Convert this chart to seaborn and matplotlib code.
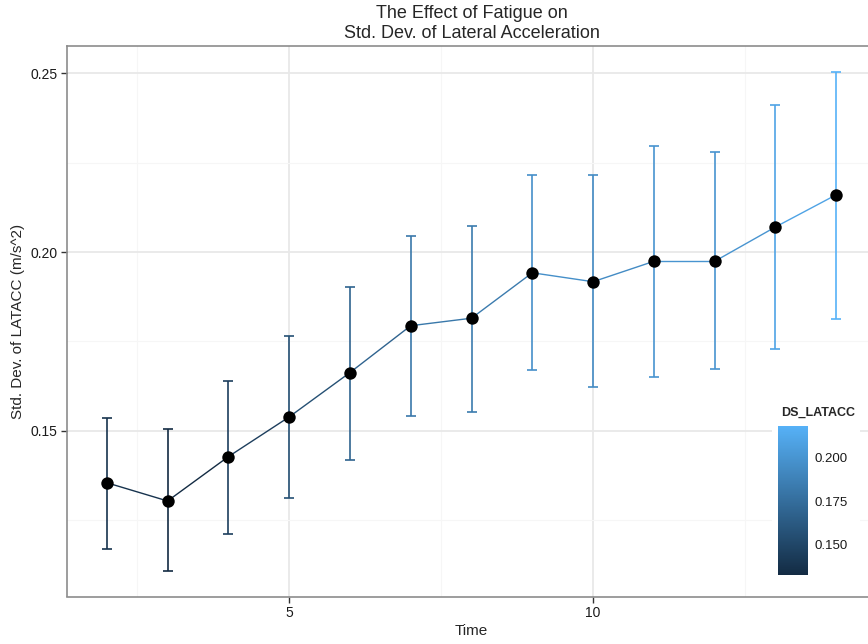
import numpy as np
import pandas as pd
import matplotlib
matplotlib.use("Agg")
import matplotlib.pyplot as plt
from matplotlib.colors import LinearSegmentedColormap, Normalize
from matplotlib.cm import ScalarMappable
from matplotlib.ticker import FixedLocator
import seaborn as sns

# Measurement occasions and summary statistics of lateral acceleration variability
time = [2, 3, 4, 5, 6, 7, 8, 9, 10, 11, 12, 13, 14]
ds_latacc = [0.1355, 0.1304, 0.1428, 0.1539, 0.1663, 0.1794, 0.1815,
             0.1942, 0.1917, 0.1974, 0.1974, 0.2070, 0.2160]
ci_lower = [0.1169, 0.1107, 0.1213, 0.1311, 0.1420, 0.1543, 0.1554,
            0.1671, 0.1623, 0.1652, 0.1674, 0.1728, 0.1812]
ci_upper = [0.1535, 0.1504, 0.1640, 0.1764, 0.1902, 0.2044, 0.2073,
            0.2215, 0.2215, 0.2297, 0.2280, 0.2411, 0.2504]

x_ticks = [5, 10]
y_ticks = [0.15, 0.20, 0.25]
legend_ticks = [0.150, 0.175, 0.200]

sns.set_style("white")
plt.rcParams["font.family"] = ["Liberation Sans", "DejaVu Sans"]

W, H = 868, 644
fig = plt.figure(figsize=(W / 100, H / 100), dpi=100)

def fx(px):
    return px / W

def fy(py):
    return 1 - py / H

# panel (extends past the right edge of the canvas)
left, right, top, bottom = 67, 876, 46, 596.5
ax = fig.add_axes([fx(left), fy(bottom), fx(right - left), (bottom - top) / H])

cmap = LinearSegmentedColormap.from_list("ggblue", ["#132B43", "#56B1F7"])
norm = Normalize(vmin=min(ds_latacc), vmax=max(ds_latacc))

# grid
ax.set_xlim(1.345, 14.655)
ax.set_ylim(0.1037, 0.2576)
ax.xaxis.set_major_locator(FixedLocator(x_ticks))
ax.yaxis.set_major_locator(FixedLocator(y_ticks))
ax.xaxis.set_minor_locator(FixedLocator([2.5, 7.5, 12.5]))
ax.yaxis.set_minor_locator(FixedLocator([0.125, 0.175, 0.225]))
ax.grid(True, which="major", color="#E8E8E8", lw=1.3, zorder=0)
ax.grid(True, which="minor", color="#F6F6F6", lw=0.8, zorder=0)
ax.set_axisbelow(True)

# line segments coloured by the value at their start
rows = []
for i in range(len(time) - 1):
    rows.append({"segment": i, "Time": time[i], "value": ds_latacc[i], "colour": ds_latacc[i]})
    rows.append({"segment": i, "Time": time[i + 1], "value": ds_latacc[i + 1], "colour": ds_latacc[i]})
seg_df = pd.DataFrame(rows)
sns.lineplot(data=seg_df, x="Time", y="value", hue="colour", units="segment",
             estimator=None, palette=cmap, hue_norm=norm, legend=False,
             lw=1.0, ax=ax, zorder=3)

# error bars
for t, m, lo, hi in zip(time, ds_latacc, ci_lower, ci_upper):
    ax.errorbar([t], [m], yerr=[[m - lo], [hi - m]], fmt="none",
                ecolor=cmap(norm(m)), elinewidth=1.2, capsize=3.4,
                capthick=1.2, zorder=4)

# points
sns.scatterplot(x=time, y=ds_latacc, color="black", s=80, linewidth=0,
                ax=ax, zorder=5)

for side in ["left", "top", "bottom"]:
    ax.spines[side].set_color("#8C8C8C")
    ax.spines[side].set_linewidth(1.2)
ax.spines["right"].set_visible(False)

ax.tick_params(which="major", direction="out", length=4, width=1,
               color="#333333", labelsize=10, labelcolor="#1A1A1A", pad=3,
               left=True, bottom=True)
ax.tick_params(which="minor", length=0)
ax.set_xticklabels([str(v) for v in x_ticks])
ax.set_yticklabels([f"{v:.2f}" for v in y_ticks])
ax.set_xlabel("")
ax.set_ylabel("")

# titles
fig.text(fx(471.5), fy(13), "The Effect of Fatigue on", ha="center", va="center", fontsize=13)
fig.text(fx(471.5), fy(34), "Std. Dev. of Lateral Acceleration", ha="center", va="center", fontsize=13)
fig.text(fx(471.5), fy(631), "Time", ha="center", va="center", fontsize=11)
fig.text(fx(18), fy(321), "Std. Dev. of LATACC (m/s^2)", ha="center", va="center",
         rotation=90, fontsize=11)

# colour legend
bg = fig.add_axes([fx(772), fy(586), fx(860 - 772), (586 - 402) / H], zorder=2)
bg.set_facecolor("white")
bg.set_xticks([])
bg.set_yticks([])
for s in bg.spines.values():
    s.set_visible(False)

# the bar reaches half a bin past the colour limits at each end
bar_norm = Normalize(vmin=0.1329, vmax=0.2178)
cax = fig.add_axes([fx(778), fy(575), fx(30), (575 - 426) / H], zorder=3)
sm = ScalarMappable(norm=bar_norm, cmap=cmap)
cb = fig.colorbar(sm, cax=cax, ticks=legend_ticks)
cb.outline.set_visible(False)
cax.yaxis.set_ticks_position("both")
cax.tick_params(direction="in", length=5.5, width=1, color="white",
                labelsize=9.5, labelcolor="#1A1A1A", pad=5, right=True, left=True,
                labelright=True, labelleft=False)
cax.set_yticklabels([f"{v:.3f}" for v in legend_ticks])
fig.text(fx(818), fy(413), "DS_LATACC", ha="center", va="center",
         fontsize=9, fontweight="bold", zorder=4)

fig.savefig("out.png", dpi=100)
